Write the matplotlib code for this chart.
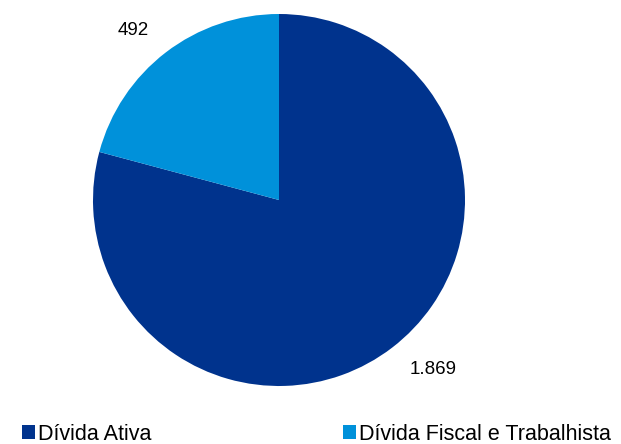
import matplotlib
matplotlib.use("Agg")
import matplotlib.pyplot as plt
from matplotlib.patches import Patch

categorias = ["Dívida Ativa", "Dívida Fiscal e Trabalhista"]
valores = [1869, 492]
rotulos = ["1.869", "492"]
cores = ["#00338d", "#0091da"]

fig = plt.figure(figsize=(6.21, 4.44), dpi=100)
ax = fig.add_axes([93 / 621, 58 / 444, 372 / 621, 372 / 444])

ax.pie(valores, labels=rotulos, colors=cores, startangle=90, counterclock=False,
       labeldistance=1.15, textprops={"fontsize": 13.5, "family": "Liberation Sans"})
ax.set_xlim(-1, 1)
ax.set_ylim(-1, 1)
ax.set_aspect("equal")

# legend: two entries, placed separately
leg_x = [22 / 621, 343 / 621]
for cat, cor, x in zip(categorias, cores, leg_x):
    leg = fig.legend([Patch(facecolor=cor, edgecolor="none")], [cat],
                     loc="lower left", bbox_to_anchor=(x, -0.002),
                     frameon=False, handlelength=0.6, handleheight=0.6,
                     handletextpad=0.15, borderpad=0, borderaxespad=0,
                     prop={"family": "Liberation Sans", "size": 15.5})

fig.savefig("out.png", dpi=100)
